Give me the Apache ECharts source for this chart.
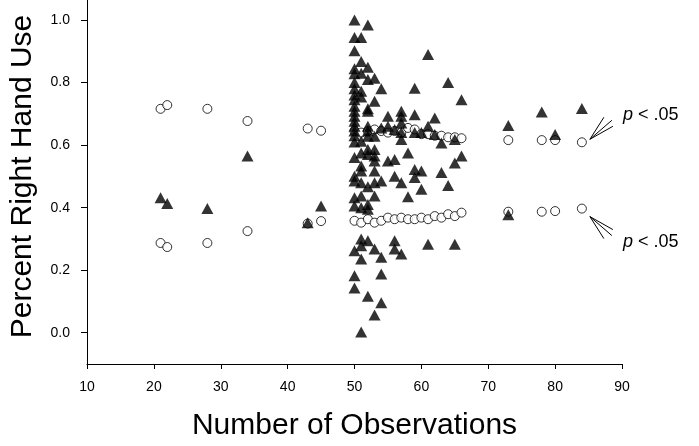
<!DOCTYPE html>
<html>
<head>
<meta charset="utf-8">
<script src="https://cdn.jsdelivr.net/npm/echarts@6/dist/echarts.min.js"></script>
<style>html,body{margin:0;padding:0;background:#fff}#c{width:699px;height:446px}</style>
</head>
<body>
<div id="c"></div>
<script>
const xTitle = 'Number of Observations';
const yTitle = 'Percent Right Hand Use';
const yTickValues = [0, 0.2, 0.4, 0.6, 0.8, 1.0];
const annotationText = 'p < .05';

const circlesUpper = [
  [21,0.716],[22,0.728],[28,0.716],[34,0.677],[43,0.653],[45,0.646],
  [50,0.645],[51,0.640],[52,0.645],[53,0.650],[54,0.645],[55,0.640],[56,0.645],[57,0.640],
  [58,0.655],[59,0.650],[60,0.635],[61,0.635],[62,0.630],[63,0.630],[64,0.625],[65,0.625],[66,0.622],
  [73,0.616],[78,0.616],[80,0.616],[84,0.609]
];
const circlesLower = [
  [21,0.287],[22,0.274],[28,0.287],[34,0.325],[43,0.349],[45,0.357],
  [50,0.358],[51,0.352],[52,0.363],[53,0.352],[54,0.358],[55,0.368],[56,0.363],[57,0.368],
  [58,0.363],[59,0.363],[60,0.368],[61,0.363],[62,0.373],[63,0.368],[64,0.379],[65,0.373],[66,0.384],
  [73,0.387],[78,0.387],[80,0.389],[84,0.397]
];
const triangles = [
  [21,0.432],[22,0.413],[28,0.397],[34,0.565],[43,0.352],[45,0.405],
  [50,1.0],[50,0.944],[50,0.902],[50,0.844],[50,0.828],[50,0.80],[50,0.78],[50,0.76],[50,0.745],
  [50,0.724],[50,0.708],[50,0.692],[50,0.676],[50,0.66],[50,0.645],[50,0.63],[50,0.61],[50,0.56],
  [50,0.50],[50,0.485],[50,0.432],[50,0.405],[50,0.262],[50,0.182],[50,0.143],
  [51,0.944],[51,0.867],[51,0.83],[51,0.772],[51,0.754],[51,0.612],[51,0.575],[51,0.533],[51,0.517],
  [51,0.48],[51,0.437],[51,0.40],[51,0.30],[51,0.278],[51,0.236],[51,0.002],
  [52,0.984],[52,0.849],[52,0.81],[52,0.716],[52,0.708],[52,0.66],[52,0.645],[52,0.628],[52,0.586],
  [52,0.57],[52,0.467],[52,0.41],[52,0.395],[52,0.294],[52,0.117],
  [53,0.814],[53,0.74],[53,0.628],[53,0.586],[53,0.565],[53,0.549],[53,0.517],[53,0.48],[53,0.437],
  [53,0.268],[53,0.057],
  [54,0.78],[54,0.655],[54,0.485],[54,0.241],[54,0.188],[54,0.096],
  [55,0.692],[55,0.66],[55,0.549],
  [56,0.65],[56,0.554],[56,0.50],[56,0.294],[56,0.268],
  [57,0.708],[57,0.692],[57,0.671],[57,0.64],[57,0.618],[57,0.48],[57,0.252],
  [58,0.575],[58,0.435],
  [59,0.782],[59,0.697],[59,0.64],[59,0.522],[59,0.496],
  [60,0.64],[60,0.517],[60,0.459],
  [61,0.89],[61,0.66],[61,0.283],
  [62,0.687],[62,0.634],
  [63,0.607],[63,0.512],
  [64,0.80],[64,0.471],
  [65,0.618],[65,0.543],[65,0.283],
  [66,0.745],[66,0.565],
  [73,0.663],[73,0.377],[78,0.706],[80,0.634],[84,0.717]
];

const FONT = '"Liberation Sans", Arial, Helvetica, sans-serif';
const chart = echarts.init(document.getElementById('c'), null, {renderer: 'canvas'});

const circleStyle = {color: '#fff', borderColor: '#000', borderWidth: 1};
const option = {
  animation: false,
  backgroundColor: '#fff',
  grid: {left: 83, right: 77, top: 0, bottom: 81, containLabel: false},
  xAxis: {
    type: 'value', min: 10, max: 90, interval: 10,
    name: xTitle, nameLocation: 'middle', nameGap: 47,
    nameTextStyle: {fontFamily: FONT, fontSize: 30, color: '#000'},
    axisLine: {show: true, onZero: false, lineStyle: {color: '#000', width: 1}},
    axisTick: {show: true, length: 5, lineStyle: {color: '#000'}},
    axisLabel: {fontFamily: FONT, fontSize: 14, color: '#000', margin: 16},
    splitLine: {show: false}
  },
  yAxis: {
    type: 'value', min: -0.1, max: 1.064,
    name: yTitle, nameLocation: 'middle', nameGap: 49, nameRotate: 90,
    nameTextStyle: {fontFamily: FONT, fontSize: 30, color: '#000', padding: [0, 0, 0, 11]},
    axisLine: {show: true, onZero: false, lineStyle: {color: '#000', width: 1}},
    axisTick: {show: true, length: 6, customValues: yTickValues, lineStyle: {color: '#000'}},
    axisLabel: {fontFamily: FONT, fontSize: 14, color: '#000', margin: 17,
      customValues: yTickValues, formatter: v => v.toFixed(1)},
    splitLine: {show: false}
  },
  series: [
    {type: 'scatter', name: 'upper', data: circlesUpper, symbol: 'circle', symbolSize: 9,
      itemStyle: circleStyle, z: 2},
    {type: 'scatter', name: 'lower', data: circlesLower, symbol: 'circle', symbolSize: 9,
      itemStyle: circleStyle, z: 2},
    {type: 'scatter', name: 'tri', data: triangles, symbol: 'triangle', symbolSize: [12, 11],
      itemStyle: {color: '#000'}, z: 3}
  ]
};
chart.setOption(option);

// annotation arrows and labels, anchored to the last circles
const up = chart.convertToPixel({gridIndex: 0}, circlesUpper[circlesUpper.length - 1]);
const lo = chart.convertToPixel({gridIndex: 0}, circlesLower[circlesLower.length - 1]);
const lineStyle = {stroke: '#000', lineWidth: 1};
function fan(p, dir) {
  const sx = p[0] + 8, sy = p[1] - 3 * dir;
  const ends = [[14, -22], [22, -19], [23, -13]];
  return ends.map(e => ({type: 'line', shape: {x1: sx, y1: sy, x2: sx + e[0], y2: sy + e[1] * dir}, style: lineStyle}));
}
const textStyle = (y) => ({
  type: 'text', x: 623, y: y,
  style: {
    text: '{i|p} < .05', fill: '#000', verticalAlign: 'middle',
    rich: {i: {fontFamily: FONT, fontSize: 18, fontStyle: 'italic', fill: '#000'}},
    fontFamily: FONT, fontSize: 18
  }
});
chart.setOption({
  graphic: [].concat(fan(up, 1), fan([lo[0], lo[1] + 5], -1), [textStyle(up[1] - 27), textStyle(lo[1] + 33)])
});
</script>
</body>
</html>
